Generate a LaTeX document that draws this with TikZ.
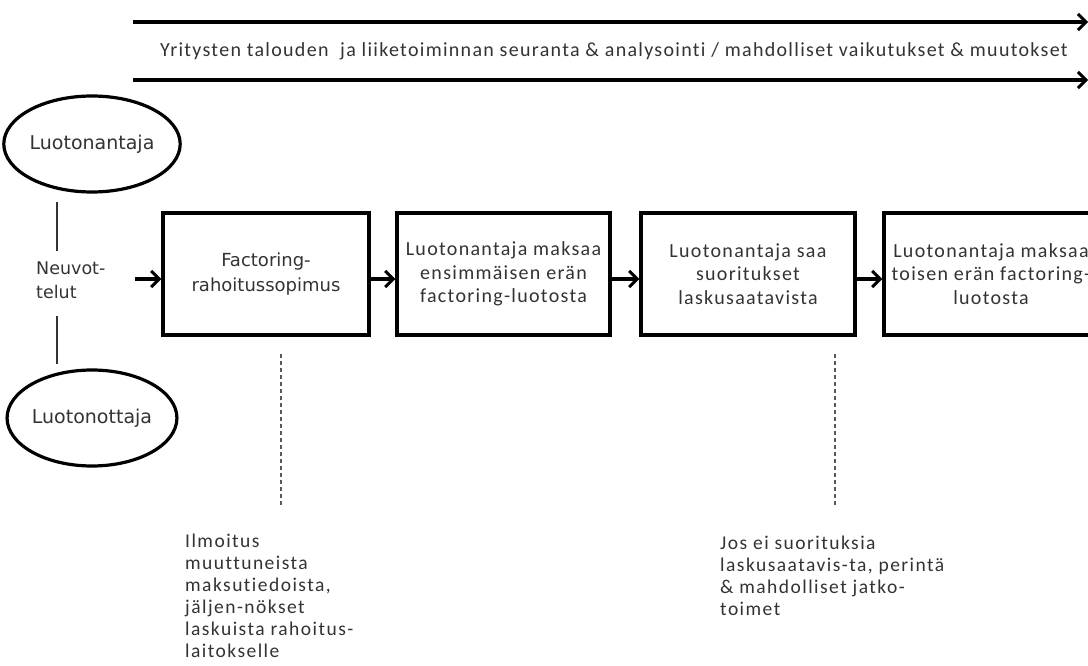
\documentclass[tikz,border=0pt]{standalone}
\usepackage{fontspec}
\setmainfont{Carlito}[LetterSpace=6.5,Ligatures=NoCommon]
\newfontfamily\verd{DejaVu Sans}
\usetikzlibrary{arrows.meta,shapes.geometric}
\tikzset{
  arr/.style={line width=3.4pt,-{Straight Barb[length=8pt,width=16pt,line width=3pt]}},
  stepbox/.style={draw,line width=3.5pt,minimum width=214pt,minimum height=122pt,inner sep=0pt,align=center,font=\fontsize{20}{23.5}\selectfont,text=black!80},
  oval/.style={draw,ellipse,line width=3.2pt,minimum width=158pt,minimum height=96pt,inner sep=0pt,font=\verd\fontsize{19}{22}\selectfont,text=black!80},
  thinline/.style={line width=1.5pt,black!80},
  dashline/.style={line width=1.5pt,black!65,dash pattern=on 4pt off 3pt},
  note/.style={anchor=north west,align=left,inner sep=0pt,font=\fontsize{19.5}{22}\selectfont\addfontfeatures{LetterSpace=7.5},text=black!80}
}
\begin{document}
\begin{tikzpicture}[x=1pt,y=-1pt]
\useasboundingbox (0,0) rectangle (1088,666);
\clip (0,0) rectangle (1088,666);
% top arrows
\coordinate (t1a) at (133,22);
\coordinate (t1b) at (1088,22);
\coordinate (t2a) at (133,80);
\coordinate (t2b) at (1088,80);
\draw[arr] (t1a) -- (t1b);
\draw[arr] (t2a) -- (t2b);
\node[font=\fontsize{20}{24}\selectfont,text=black!80] (top) at (614,51) {Yritysten talouden \ ja liiketoiminnan seuranta \& analysointi / mahdolliset vaikutukset \& muutokset};
% ellipses
\node[oval] (e1) at (92,144) {Luotonantaja};
\node[oval] (e2) at (92,418) {Luotonottaja};
\node[anchor=west,align=left,inner sep=0pt,font=\verd\fontsize{17.5}{24.5}\selectfont,text=black!80] (neu) at (36,280) {Neuvot-\\telut};
\coordinate (v1a) at (57,202);
\coordinate (v1b) at (57,251);
\coordinate (v2a) at (57,316);
\coordinate (v2b) at (57,364);
\draw[thinline] (v1a) -- (v1b);
\draw[thinline] (v2a) -- (v2b);
% boxes
\node[stepbox,minimum width=206pt,font=\verd\fontsize{18}{25}\selectfont] (b1) at (266,274) {Factoring-\\rahoitussopimus};
\node[stepbox,minimum width=213pt] (b2) at (503.5,274) {Luotonantaja maksaa\\ensimmäisen erän\\factoring-luotosta};
\node[stepbox] (b3) at (748,274) {Luotonantaja saa\\suoritukset\\laskusaatavista};
\node[stepbox] (b4) at (991,274) {Luotonantaja maksaa\\toisen erän factoring-\\luotosta};
\coordinate (a0) at (135,279);
\draw[arr] (a0) -- (b1.west |- a0);
\draw[arr] (b1.east |- a0) -- (b2.west |- a0);
\draw[arr] (b2.east |- a0) -- (b3.west |- a0);
\draw[arr] (b3.east |- a0) -- (b4.west |- a0);
% dashed lines
\coordinate (d1a) at (281,354);
\coordinate (d1b) at (281,506);
\coordinate (d2a) at (835,354);
\coordinate (d2b) at (835,506);
\draw[dashline] (d1a) -- (d1b);
\draw[dashline] (d2a) -- (d2b);
% notes
\node[note] (n1) at (185,534) {Ilmoitus\\muuttuneista\\maksutiedoista,\\jäljen-nökset\\laskuista rahoitus-\\laitokselle};
\node[note] (n2) at (720,536) {Jos ei suorituksia\\laskusaatavis-ta, perintä\\\& mahdolliset jatko-\\toimet};
\end{tikzpicture}
\end{document}
